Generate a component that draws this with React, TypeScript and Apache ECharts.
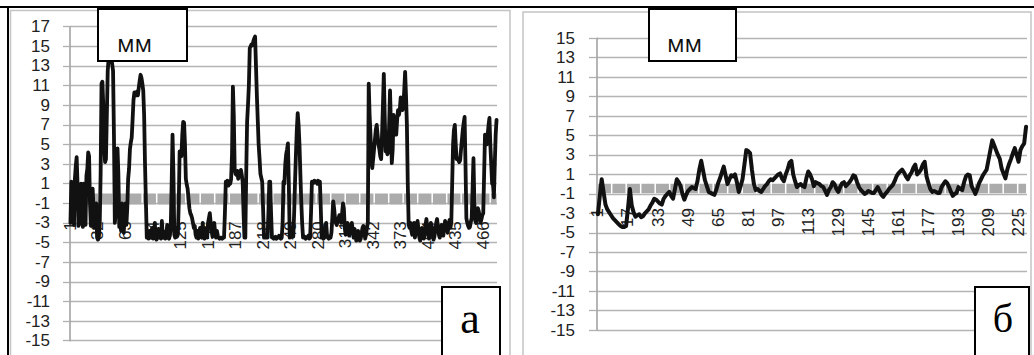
import React, { useEffect, useRef } from "react";
import * as echarts from "echarts";

// ---- data (mm) ----
const leftValues: number[] = [
  -3, 1.2, -2.5, 0.5, -3.2, 1.5, 2.8, 3.7, 1, -3.3,
  -3, -1, 1, -2.8, -3.4, 1, -0.5, -3.2, 1.8, 2.5,
  4.2, 3.8, -1, -3.3, -3, 0.5, -1.5, -3.5, -2.8, -1,
  -4.5, -4.7, -4.5, -3, 2, 11.2, 11.4, 9, 5, 3.2,
  3.5, 8, 12.5, 13.8, 14.1, 13.6, 14, 13.2, 12.5, 6,
  -3, -2, 1.5, 4.6, 2, -3.4, -3, -3.8, -1, -3.5,
  -4, -2.5, -1, -3.2, -1.5, 1.5, 2.5, 4.5, 5.2, 5.7,
  7.5, 9.5, 10.3, 10.2, 10, 10.4, 10, 10.8, 11.5, 12.1,
  11.8, 11.2, 10.5, 8, 3, -0.8, -4.5, -4.3, -4.6, -3.8,
  -4.5, -4.2, -3.5, -4.6, -4.4, -3, -4.5, -4.7, -4.2, -3.6,
  -4.5, -4.3, -4.6, -2.8, -4.4, -4.5, -3.9, -4.6, -4.2, -3.2,
  -4.5, -4.6, -4.3, -3.5, 1, 6, 2, -4.2, -4.5, -3.5,
  -4.4, -4.2, -1, 4.3, 4.2, 3.8, 6, 7.3, 7.2, 5,
  1.5, 0.9, 0.5, -0.5, -1.5, -2, -2.2, -2.5, -3, -3.5,
  -3.3, -4.2, -4.5, -3.8, -4.6, -4.2, -3.5, -4.4, -4.5, -3,
  -4.2, -4.6, -4.3, -3.5, -4.5, -3, -2.5, -2, -3, -3.8,
  -4.4, -3.3, -3, -4, -4.5, -3.8, -4.3, -4.5, -4.6, -4.5,
  -4.5, -4.6, -4.5, -4.5, -2, 1.2, 1, 1.3, 0.8, 1.2,
  1, 1.5, 4, 10.9, 8, 2.5, 2, 1.9, 2.3, 1.5,
  2.1, 1.8, 2.4, 1.9, 1.2, -2, -4.5, -4.5, 2, 7.3,
  9, 11, 14.8, 15, 15.2, 15.1, 15.5, 15.8, 16, 13,
  10, 7.5, 5, 3.6, 2, 1.6, 1.2, -1.5, -4.5, -4.5,
  -4.3, -4.5, -4.5, -2, 1.2, 1.2, -2, -4.5, -4.5, -4.6,
  -4.5, -4.4, -4.6, -4.5, -4.5, -4.3, -4.5, -4.6, -4.5, -3,
  1.2, 1, 3, 4, 4.5, 5.1, 1, -4.5, -3.9, -4.2,
  -3.5, -4.4, -2, 1.2, 4, 6.5, 8.2, 7, 5, 2,
  -0.8, -3, -4.5, -4.5, -4.4, -4.6, -4.5, -4.5, -4.3, -4.6,
  -4.5, -2, 1.2, 1.2, 1.1, 1.3, 1.2, 1.2, 1, 1.3,
  1.2, 1.2, -1.5, -4.5, -4.4, -4.6, -4.5, -3.5, -3, -4.2,
  -4.5, -4.6, -4.4, -4.5, -4, -2.5, -0.8, -1.5, -2.5, -3,
  -3.2, -2.8, -2.5, -2.2, -2.4, -3, -2, -1, -1.5, -3.5,
  -4.2, -3.8, -3, -3.5, -4.3, -3.8, -3.2, -3, -3.8, -4.5,
  -3.6, -4.2, -4.8, -4.5, -3.8, -4.3, -4.8, -4.6, -4, -3.5,
  -3.3, -4, -4.6, -4.2, -3.5, -3, 11.2, 8, 6, 3.5,
  2.6, 3.5, 4.5, 5.5, 6.5, 7, 6, 5, 4.5, 3.8,
  3.5, 6, 9, 12.2, 8, 4.3, 4.5, 4, 4.2, 7,
  10.5, 7, 3.1, 4.5, 8, 7, 6.5, 6, 7.5, 8.5,
  8, 8.5, 9.8, 9.5, 8.5, 9, 10.5, 12.4, 10, 7,
  1, -3.2, -3.5, -3, -3.8, -4.2, -3.4, -3, -4.5, -4,
  -3.5, -2.8, -3.6, -4.5, -4.8, -4.2, -3.5, -3.8, -4.6, -4.3,
  -3.2, -2.6, -3.5, -4, -4.6, -3.8, -3, -3.4, -4.2, -4.7,
  -4.4, -3.6, -3, -2.6, -3.4, -4.2, -4.5, -3.8, -3.2, -3.6,
  -4.3, -3.5, -2.8, -3, -3.6, -4, -3.2, -2.7, -3.5, -3,
  1, 5, 6.5, 7, 5, 3.5, 3.6, 3.4, 3.2, 3.4,
  4.5, 5.5, 6.5, 7.2, 7.8, 3, -2.5, -3, -3.3, -3.5,
  -3.4, -2.9, -2.5, 0.5, 3.6, -1, -2.8, -3, -2.2, -1.5,
  -1.8, -2.5, -3, -2.6, -2.2, -2, 2, 6, 5.5, 5,
  6, 7, 7.7, 5, 3, 1, 0.9, -0.4, 3, 6, 7.5,
];

const rightValues: number[] = [
  -3.1, -1.2, 0.5, -0.8, -2.1, -2.6, -2.9, -3.2, -3.5, -3.7,
  -3.9, -4.1, -4.3, -4.4, -4.4, -4.3, -2.5, -0.5, -2.2, -2.9,
  -3.35, -3.2, -3.1, -3.4, -3.3, -3.0, -2.8, -2.6, -2.2, -1.9,
  -1.5, -1.6, -1.8, -2.0, -2.1, -1.5, -1.2, -1.0, -0.8, -1.2,
  -1.5, -0.5, 0.5, 0.2, -0.2, -1.0, -1.6, -1.1, -0.7, -0.5,
  -0.3, -0.4, -0.5, 0.3, 1.5, 2.4, 1.4, 0.4, -0.2, -0.8,
  -0.9, -1.0, -1.1, -0.6, 0.1, 0.6, 1.2, 1.8, 0.9, 0.0,
  0.5, 0.9, 0.8, 1.0, 0.2, -0.8, -0.2, 0.5, 2.0, 3.5,
  3.4, 3.2, 1.5, 0.1, -0.6, -0.5, -0.7, -0.8, -0.5, -0.2,
  0.0, 0.3, 0.5, 0.4, 0.6, 0.8, 1.0, 1.1, 0.6, 0.3,
  1.0, 1.5, 2.2, 2.4, 1.0, 0.3, -0.3, -0.1, 0.0, -0.2,
  -0.3, 0.6, 1.3, 1.0, 0.5, -0.2, 0.2, 0.1, 0.0, -0.2,
  -0.3, -0.7, -1.1, -0.6, -0.3, 0.2, 0.0, -0.5, -0.8, -0.3,
  0.1, 0.2, -0.2, 0.0, 0.2, 0.5, 0.9, 0.8, 0.2, -0.3,
  -0.6, -0.8, -1.0, -0.9, -0.7, -0.8, -0.9, -0.9, -0.6, -0.3,
  -0.7, -1.1, -1.3, -1.0, -0.8, -0.5, -0.3, -0.1, 0.3, 0.8,
  1.1, 1.3, 1.5, 1.2, 0.8, 0.5, 0.9, 1.2, 1.7, 2.0,
  1.0, 1.2, 1.5, 2.0, 2.3, 0.8, 0.1, -0.5, -0.8, -0.7,
  -0.8, -0.9, -0.9, -0.3, 0.0, 0.3, 0.1, -0.3, -0.8, -1.2,
  -1.0, -0.9, -0.3, -0.5, -0.6, 0.2, 0.8, 1.0, 0.9, -0.2,
  -0.6, -1.0, -0.5, 0.1, 0.5, 0.9, 1.2, 1.5, 2.5, 3.5,
  4.5, 4.0, 3.5, 3.0, 2.6, 1.6, 1.1, 0.6, 1.5, 2.1,
  2.6, 3.2, 3.7, 3.0, 2.3, 3.5, 3.9, 4.2, 5.9,
];

const leftCategories = leftValues.map((_, i) => String(i + 1));
const rightCategories = rightValues.map((_, i) => String(i + 1));

const LEFT_MIN = -15;
const LEFT_MAX = 17;
const RIGHT_MIN = -15;
const RIGHT_MAX = 15;
const Y_STEP = 2;
const LEFT_LABEL_EVERY = 31;
const RIGHT_LABEL_EVERY = 16;
const LEFT_BAND = -0.55;
const RIGHT_BAND = -0.45;
const unitLabels = ["мм", "мм"];
const panelLetters = ["а", "б"];

const axisFont = { fontFamily: "Liberation Sans", fontSize: 17, color: "#222" };

function makeYAxis(gridIndex: number, min: number, max: number, margin: number, tickLen: number) {
  return {
    type: "value",
    gridIndex,
    min: 0,
    max: max - min,
    interval: Y_STEP,
    axisLine: { show: true, lineStyle: { color: "#9c9c9c", width: 1.5 } },
    axisTick: { show: true, length: tickLen, lineStyle: { color: "#b0b0b0", width: 1.3 } },
    splitLine: { show: true, lineStyle: { color: "#b4b4b4", width: 1.3 } },
    axisLabel: { ...axisFont, margin, formatter: (v: number) => String(v + min) },
  };
}

function makeXAxis(gridIndex: number, data: string[], every: number, margin: number) {
  return {
    type: "category",
    gridIndex,
    data,
    boundaryGap: true,
    axisLine: { show: false },
    axisTick: { show: false },
    splitLine: { show: false },
    axisLabel: { ...axisFont, interval: every - 1, rotate: 90, margin },
  };
}

export default function App() {
  const ref = useRef<HTMLDivElement>(null);
  useEffect(() => {
    if (!ref.current) return;
    const chart = echarts.init(ref.current, undefined, { renderer: "svg" });
    const lineBase = {
      type: "line",
      symbol: "none",
      silent: true,
    };
    const option: any = {
      animation: false,
      backgroundColor: "#ffffff",
      grid: [
        { left: 70, right: 537, top: 26.7, bottom: 14.3 },
        { left: 597, right: 7, top: 38.3, bottom: 25 },
      ],
      xAxis: [
        makeXAxis(0, leftCategories, LEFT_LABEL_EVERY, -119.5),
        makeXAxis(1, rightCategories, RIGHT_LABEL_EVERY, -122),
      ],
      yAxis: [
        makeYAxis(0, LEFT_MIN, LEFT_MAX, 20, 7),
        makeYAxis(1, RIGHT_MIN, RIGHT_MAX, 22, 8),
      ],
      series: [
        {
          ...lineBase,
          xAxisIndex: 0,
          yAxisIndex: 0,
          z: 2,
          data: leftCategories.map(() => LEFT_BAND - LEFT_MIN),
          lineStyle: { color: "#ababab", width: 11, type: [13, 1.5], cap: "butt" },
        },
        {
          ...lineBase,
          xAxisIndex: 0,
          yAxisIndex: 0,
          z: 3,
          data: leftValues.map((v) => v - LEFT_MIN),
          lineStyle: { color: "#111111", width: 3.8, join: "round", cap: "round" },
        },
        {
          ...lineBase,
          xAxisIndex: 1,
          yAxisIndex: 1,
          z: 2,
          data: rightCategories.map(() => RIGHT_BAND - RIGHT_MIN),
          lineStyle: { color: "#ababab", width: 9.5, type: [13, 1.5], cap: "butt" },
        },
        {
          ...lineBase,
          xAxisIndex: 1,
          yAxisIndex: 1,
          z: 3,
          data: rightValues.map((v) => v - RIGHT_MIN),
          lineStyle: { color: "#111111", width: 4, join: "round", cap: "round" },
        },
      ],
      graphic: [
        { type: "rect", z: 0, shape: { x: 10.5, y: 10.5, width: 499.5, height: 360 }, style: { fill: "none", stroke: "#c4c4c4", lineWidth: 1.5 } },
        { type: "rect", z: 0, shape: { x: 523, y: 12, width: 508, height: 360 }, style: { fill: "none", stroke: "#c4c4c4", lineWidth: 1.5 } },
        { type: "line", z: 10, shape: { x1: 0, y1: 7, x2: 1034, y2: 7 }, style: { stroke: "#000", lineWidth: 2 } },
        { type: "line", z: 10, shape: { x1: 8, y1: 7, x2: 8, y2: 355 }, style: { stroke: "#000", lineWidth: 2 } },
        { type: "rect", z: 20, shape: { x: 98, y: 9, width: 89, height: 52 }, style: { fill: "#fff", stroke: "#000", lineWidth: 2 } },
        { type: "text", z: 21, x: 117, y: 42, style: { text: unitLabels[0], font: "24px 'Open Sans'", fill: "#111", verticalAlign: "middle" } },
        { type: "rect", z: 20, shape: { x: 649, y: 9, width: 87, height: 52 }, style: { fill: "#fff", stroke: "#000", lineWidth: 2 } },
        { type: "text", z: 21, x: 667, y: 42, style: { text: unitLabels[1], font: "24px 'Open Sans'", fill: "#111", verticalAlign: "middle" } },
        { type: "rect", z: 20, shape: { x: 442, y: 287, width: 58, height: 80 }, style: { fill: "#fff", stroke: "#000", lineWidth: 2 } },
        { type: "text", z: 21, x: 470, y: 318, style: { text: panelLetters[0], font: "44px 'Liberation Serif'", fill: "#000", align: "center", verticalAlign: "middle" } },
        { type: "rect", z: 20, shape: { x: 975, y: 287, width: 54, height: 80 }, style: { fill: "#fff", stroke: "#000", lineWidth: 2 } },
        { type: "text", z: 21, x: 1003, y: 318, style: { text: panelLetters[1], font: "40px 'Liberation Serif'", fill: "#000", align: "center", verticalAlign: "middle" } },
      ],
    };
    chart.setOption(option);
    return () => chart.dispose();
  }, []);
  return (
    <div
      ref={ref}
      style={{ position: "absolute", left: 0, top: 0, width: 1034, height: 355 }}
    />
  );
}
